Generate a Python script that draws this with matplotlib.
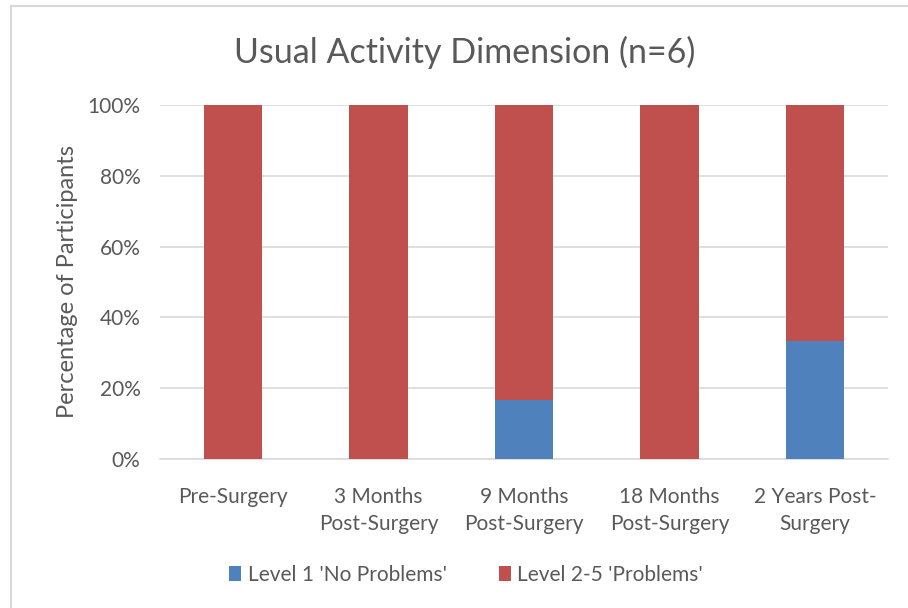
import matplotlib.pyplot as plt
from matplotlib.lines import Line2D
from matplotlib.ticker import PercentFormatter

plt.rcParams['font.family'] = ['Lato', 'DejaVu Sans']

categories = ['Pre-Surgery', '3 Months\nPost-Surgery', '9 Months\nPost-Surgery',
              '18 Months\nPost-Surgery', '2 Years Post-\nSurgery']
no_problems = [0, 0, 16.67, 0, 33.33]
problems = [100, 100, 83.33, 100, 66.67]

text_color = '#595959'
blue = '#4f81bd'
red = '#c0504d'

fig = plt.figure(figsize=(9.08, 6.08), dpi=100)
ax = fig.add_axes([160 / 908, 1 - 459 / 608, 728 / 908, 354 / 608])

x = range(len(categories))
ax.bar(x, no_problems, width=0.4, color=blue, label="Level 1 'No Problems'", zorder=3)
ax.bar(x, problems, width=0.4, bottom=no_problems, color=red,
       label="Level 2-5 'Problems'", zorder=3)

ax.set_xlim(-0.5, len(categories) - 0.5)
ax.set_ylim(0, 100)
ax.set_yticks([0, 20, 40, 60, 80, 100])
ax.yaxis.set_major_formatter(PercentFormatter(decimals=0))
ax.set_xticks(list(x))
ax.set_xticklabels(categories, fontsize=15, color=text_color, linespacing=1.45)
ax.tick_params(axis='y', labelsize=15, labelcolor=text_color, length=0, pad=14)
ax.tick_params(axis='x', length=0, pad=20)
ax.grid(axis='y', color='#d9d9d9', linewidth=1.2, zorder=0)
for s in ['top', 'right', 'left']:
    ax.spines[s].set_visible(False)
ax.spines['bottom'].set_color('#d9d9d9')
ax.spines['bottom'].set_linewidth(1.2)

ax.set_ylabel('Percentage of Participants', fontsize=17, color=text_color, labelpad=7)
fig.text(465 / 908, 1 - 52 / 608, 'Usual Activity Dimension (n=6)', fontsize=24.5,
         color=text_color, ha='center', va='center')

fig.legend(loc='center', bbox_to_anchor=(466 / 908, 1 - 575 / 608), ncol=2,
           frameon=False, fontsize=15, labelcolor=text_color, handlelength=0.6,
           handleheight=0.7, handletextpad=0.3, columnspacing=2.5)

# chart area border (left and top edges visible)
fig.add_artist(Line2D([10.5 / 908, 10.5 / 908], [0, 1 - 6 / 608], transform=fig.transFigure,
                      color='#d9d9d9', linewidth=1.5))
fig.add_artist(Line2D([10.5 / 908, 1], [1 - 6 / 608, 1 - 6 / 608], transform=fig.transFigure,
                      color='#d9d9d9', linewidth=1.5))

fig.savefig('out.png', dpi=100)
